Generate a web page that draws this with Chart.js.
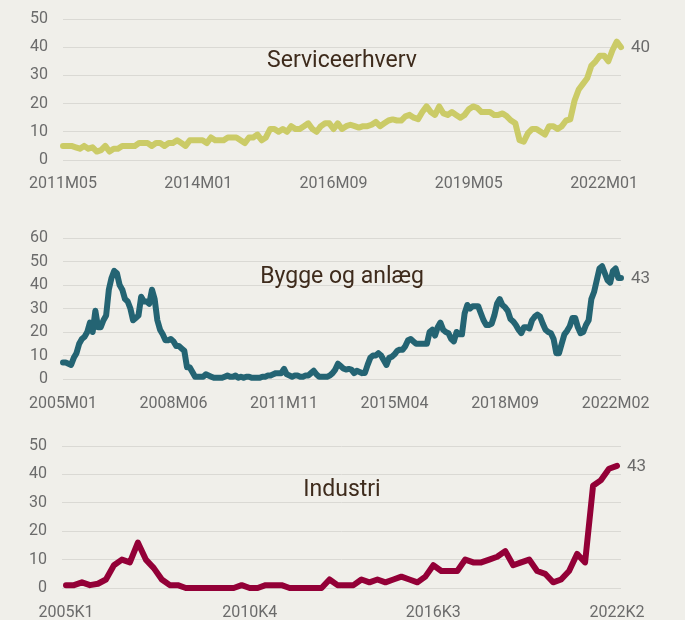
<!DOCTYPE html>
<html>
<head>
<meta charset="utf-8">
<script src="https://cdn.jsdelivr.net/npm/chart.js@4.4.1/dist/chart.umd.min.js"></script>
<style>
  body { margin: 0; background: #F0EFEA; }
  #wrap { position: relative; width: 685px; height: 620px; background: #F0EFEA; overflow: hidden; }
  canvas { position: absolute; left: 0; }
</style>
</head>
<body>
<div id="wrap">
  <canvas id="serviceChart" width="685" height="215" style="top:-10px"></canvas>
  <canvas id="byggChart" width="685" height="225" style="top:200px"></canvas>
  <canvas id="industriChart" width="685" height="215" style="top:405px"></canvas>
</div>
<script>
// Serviceerhverv, monthly 2011M05 - 2022M04
const serviceTicks = ['2011M05', '2014M01', '2016M09', '2019M05', '2022M01'];
const serviceValues = [
  5, 5, 5, 4.5, 4, 5, 4, 4.5, 3, 3.5,
  5, 3, 4, 4, 5, 5, 5, 5, 6, 6,
  6, 5, 6, 6, 5, 6, 6, 7, 6, 5,
  7, 7, 7, 7, 6, 8, 7, 7, 7, 8,
  8, 8, 7, 6, 8, 8, 9, 7, 8, 11,
  11, 10, 11, 10, 12, 11, 11, 12, 13, 11,
  10, 12, 13, 13, 11, 13, 11,
  12, 12.5, 12, 11.5, 12, 12, 12.5, 13.5, 12, 13,
  14, 14.4, 14, 14, 15.5, 16, 15, 14.5, 17, 19,
  17, 16, 19, 16.5, 16, 17, 16, 15, 16, 18,
  19, 18.5, 17, 17, 17, 16, 16, 16.5, 15.5, 14,
  13, 7, 6.5, 9.5, 11, 11, 10, 9, 12, 12,
  11, 12, 14, 14.4, 21, 25, 27, 29, 33.5, 35,
  37, 37, 35, 39, 42, 40
];

// Bygge og anlæg, monthly 2005M01 - 2022M04
const byggTicks = ['2005M01', '2008M06', '2011M11', '2015M04', '2018M09', '2022M02'];
const byggValues = [
  7, 7, 6.5, 6, 9, 11, 15, 17, 18, 20,
  24, 20, 29, 22, 22, 25, 27, 38, 43, 46,
  45, 40, 38, 34, 33, 30, 25, 26, 27, 35,
  33, 33, 32, 38, 34, 25, 21, 19, 16.5, 16.5,
  17, 16, 14, 14, 13, 12, 5, 5, 3, 1,
  1, 1, 1, 2, 1.5, 1, 0.5, 0.5, 0.5, 0.5,
  1, 1.5, 1, 1, 1.5, 0.5, 1, 0.5,
  1, 1, 0.5, 0.5, 0.5, 0.5, 1, 1, 1.5, 1.5,
  2, 2.5, 2.5, 2.5, 4.3, 2, 1.5, 1, 1.5, 1.5,
  1, 1, 1.5, 1.5, 2.5, 3.5, 2, 1, 1, 1,
  1, 1.5, 2.5, 4, 6.5, 5.5, 4.5, 4, 4.3, 4,
  2.5, 3.5, 3, 2.5, 2.6, 6, 9, 10, 10, 11,
  10, 8, 6, 9, 9.5, 10.5, 12, 12.5, 12.5, 14,
  16.5, 17, 16, 15, 15, 15, 15, 15, 20, 21,
  18.5, 22, 24, 21, 20, 19.5, 17, 16, 20, 19,
  19, 28, 31.5, 30, 31, 31, 31, 28, 25, 23,
  23, 23.5, 27, 32, 34, 31.5, 30.5, 29, 25.5, 24.5,
  23, 21, 19.5, 22, 22, 21.5, 25, 26.5, 27.4, 26.5,
  23.5, 21, 20, 19.5, 17, 11, 11, 15, 19, 20.5,
  22.5, 26, 26, 22, 19.5, 20, 23, 25, 34, 37,
  42, 47, 48, 45, 42, 41, 46, 47, 43, 43
];

// Industri, quarterly 2005K1 - 2022K2
const industriTicks = ['2005K1', '2010K4', '2016K3', '2022K2'];
const industriValues = [
  1, 1, 2, 1, 1.5, 3, 8, 10, 9, 16,
  10, 7, 3, 1, 1, 0, 0, 0, 0, 0,
  0, 0, 1, 0, 0, 1, 1, 1, 0, 0,
  0, 0, 0, 3, 1, 1, 1, 3, 2, 3,
  2, 3, 4, 3, 2, 4, 8, 6, 6, 6,
  10, 9, 9, 10, 11, 13, 8, 9, 10, 6,
  5, 2, 3, 6, 12, 9, 36, 38, 42, 43
];

function monthLabels(year, month, n) {
  const out = [];
  for (let i = 0; i < n; i++) {
    out.push(year + 'M' + String(month).padStart(2, '0'));
    month++;
    if (month > 12) { month = 1; year++; }
  }
  return out;
}

function quarterLabels(year, q, n) {
  const out = [];
  for (let i = 0; i < n; i++) {
    out.push(year + 'K' + q);
    q++;
    if (q > 4) { q = 1; year++; }
  }
  return out;
}

Chart.defaults.font.family = 'Roboto, "Open Sans", sans-serif';
Chart.defaults.color = '#6B6B6B';

// title text inside the plot + value label at the end of the line
const decoPlugin = {
  id: 'deco',
  afterDatasetsDraw(chart, args, opts) {
    const ctx = chart.ctx;
    const area = chart.chartArea;
    ctx.save();
    ctx.font = '23px Roboto, sans-serif';
    ctx.fillStyle = '#3E2B1C';
    ctx.textAlign = 'center';
    ctx.textBaseline = 'middle';
    ctx.fillText(opts.text, 342, area.top + opts.titleY);

    const meta = chart.getDatasetMeta(0);
    const last = meta.data[meta.data.length - 1];
    const vals = chart.data.datasets[0].data;
    ctx.font = '17px Roboto, sans-serif';
    ctx.fillStyle = '#6B6B6B';
    ctx.textAlign = 'left';
    ctx.fillText(String(Math.round(vals[vals.length - 1])), last.x + 10, last.y + 1);
    ctx.restore();
  }
};

function makeChart(id, labels, values, ticks, color, opt) {
  const ctx = document.getElementById(id).getContext('2d');
  return new Chart(ctx, {
    type: 'line',
    data: {
      labels: labels,
      datasets: [{
        data: values,
        borderColor: color,
        borderWidth: 6,
        borderJoinStyle: 'round',
        borderCapStyle: 'round',
        pointRadius: 0,
        tension: 0,
        fill: false,
        clip: false
      }]
    },
    options: {
      responsive: false,
      animation: false,
      layout: { padding: { top: opt.top, right: 64, left: 0, bottom: 0 } },
      plugins: {
        legend: { display: false },
        tooltip: { enabled: false },
        deco: { text: opt.title, titleY: opt.titleY }
      },
      scales: {
        x: {
          offset: opt.offset,
          grid: { display: false, drawTicks: false },
          border: { display: false },
          ticks: {
            autoSkip: false,
            maxRotation: 0,
            padding: opt.xPad,
            font: { size: 16 },
            callback: function(v, i) {
              const lab = this.getLabelForValue(v);
              return ticks.indexOf(lab) >= 0 ? lab : '';
            }
          },
          afterFit: function(scale) { scale.height = opt.xHeight; }
        },
        y: {
          min: 0,
          max: opt.max,
          grid: { color: '#DAD9D4', lineWidth: 1, drawTicks: false },
          border: { display: false },
          ticks: { stepSize: 10, padding: 15, font: { size: 16 } },
          afterFit: function(scale) { scale.width = opt.left; }
        }
      }
    },
    plugins: [decoPlugin]
  });
}

makeChart('serviceChart', monthLabels(2011, 5, serviceValues.length), serviceValues, serviceTicks, '#CBCB67',
  { title: 'Serviceerhverv', titleY: 42, max: 50, top: 29, left: 63, xHeight: 45, xPad: 14, offset: false });

makeChart('byggChart', monthLabels(2005, 1, byggValues.length), byggValues, byggTicks, '#246473',
  { title: 'Bygge og anlæg', titleY: 39, max: 60, top: 38, left: 63, xHeight: 46, xPad: 15, offset: false });

makeChart('industriChart', quarterLabels(2005, 1, industriValues.length), industriValues, industriTicks, '#930037',
  { title: 'Industri', titleY: 44, max: 50, top: 41, left: 62, xHeight: 32, xPad: 15, offset: true });
</script>
</body>
</html>
